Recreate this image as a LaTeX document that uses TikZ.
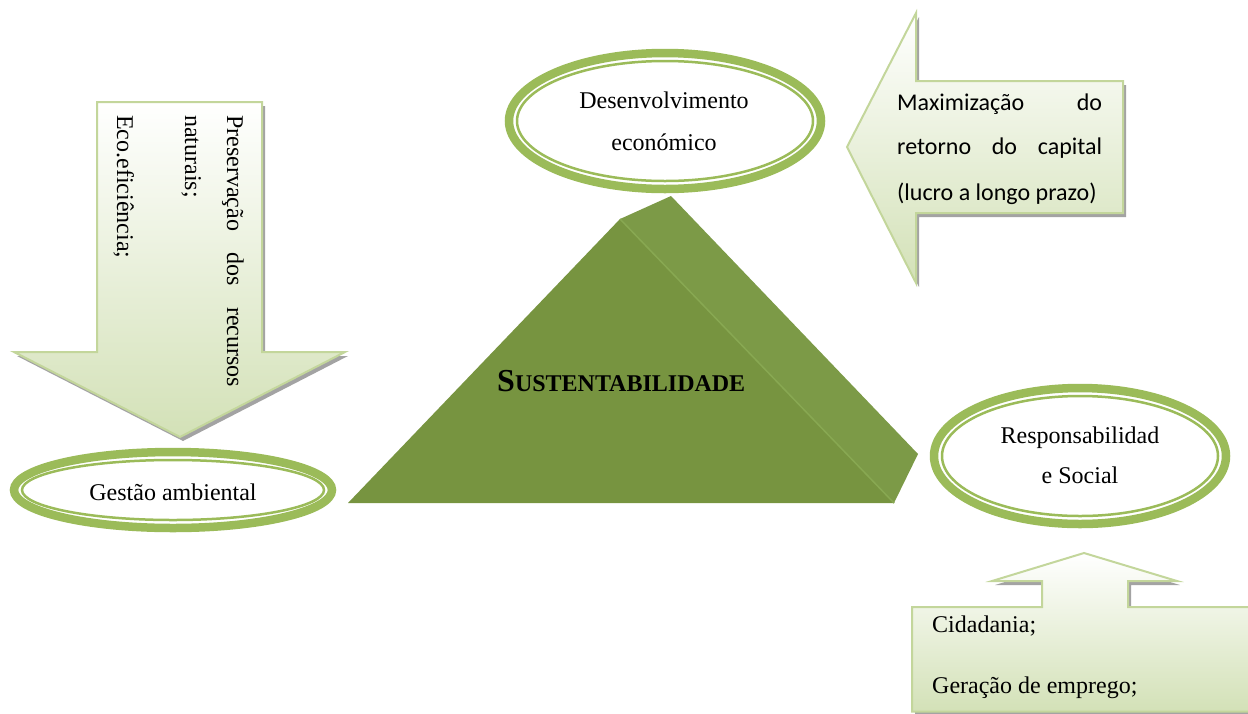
\documentclass[tikz,border=0pt]{standalone}
\usepackage{fontspec}
\setmainfont{Liberation Serif}
\newfontfamily\calfont{Carlito}
\usetikzlibrary{shapes.geometric}
\definecolor{ringgreen}{HTML}{9BBB59}
\definecolor{arrowedge}{HTML}{C3D69B}
\definecolor{arrowfill}{HTML}{D3E1B7}
\definecolor{pyrfront}{HTML}{779440}
\definecolor{pyrside}{HTML}{7C9A47}
\definecolor{pyrridge}{HTML}{88A852}
\definecolor{shadowgray}{HTML}{A3A3A3}
\begin{document}
\begin{tikzpicture}[x=1pt,y=-1pt,
  ringell/.style={ellipse, draw=ringgreen, line width=8.5pt, inner sep=0pt, fill=white},
  innerell/.style={draw=ringgreen, line width=2.5pt},
  arrowshape/.style={draw=arrowedge, line width=2pt, top color=white, bottom color=arrowfill},
  shadowshape/.style={fill=shadowgray},
  lbl/.style={font=\fontsize{24}{28}\selectfont, inner sep=0pt, anchor=base},
  callbl/.style={font=\calfont\fontsize{24}{28}\selectfont, inner sep=0pt, anchor=base west},
]
\useasboundingbox (0,0) rectangle (1248,713);

% ---------- down arrow (left) ----------
\fill[shadowshape, shift={(3,4)}] (97,102) -- (262,102) -- (262,352) -- (345,352) -- (180,437) -- (14,352) -- (97,352) -- cycle;
\path[arrowshape] (97,102) -- (262,102) -- (262,352) -- (345,352) -- (180,437) -- (14,352) -- (97,352) -- cycle;
\node[lbl, rotate=-90, anchor=base west] (p1) at (227,115) {\makebox[272pt][s]{Preservação dos recursos}};
\node[lbl, rotate=-90, anchor=base west] (p2) at (185,115) {naturais;};
\node[lbl, rotate=-90, anchor=base west] (p3) at (117,115) {Eco.eficiência;};

% ---------- left arrow (top right) ----------
\fill[shadowshape, shift={(3,4)}] (847,147) -- (916,13) -- (916,81) -- (1123,81) -- (1123,213) -- (916,213) -- (916,283) -- cycle;
\path[arrowshape] (847,147) -- (916,13) -- (916,81) -- (1123,81) -- (1123,213) -- (916,213) -- (916,283) -- cycle;
\node[callbl] (m1) at (897,110) {\makebox[205pt][s]{Maximização do}};
\node[callbl] (m2) at (897,154) {\makebox[205pt][s]{retorno do capital}};
\node[callbl] (m3) at (897,200) {(lucro a longo prazo)};

% ---------- up arrow callout (bottom right) ----------
\fill[shadowshape, shift={(3,4)}] (912,607) -- (1042,607) -- (1042,581) -- (992,581) -- (1084,553) -- (1177,581) -- (1128,581) -- (1128,607) -- (1252,607) -- (1252,716) -- (912,716) -- cycle;
\path[arrowshape] (912,607) -- (1042,607) -- (1042,581) -- (992,581) -- (1084,553) -- (1177,581) -- (1128,581) -- (1128,607) -- (1252,607) -- (1252,711.5) -- (912,711.5) -- cycle;
\node[lbl, anchor=base west] (c1) at (932,632) {Cidadania;};
\node[lbl, anchor=base west] (c2) at (932,693) {Geração de emprego;};

% ---------- pyramid ----------
\fill[pyrside] (620,219) -- (671,196) -- (918,454) -- (894,503) -- cycle;
\fill[pyrfront] (348,503) -- (620,219) -- (894,503) -- cycle;
\draw[pyrridge, line width=1.5pt] (620,219) -- (894,503);
\node[lbl, anchor=base west, font=\bfseries] (sust) at (497,391)
  {{\fontsize{32}{32}\selectfont S}{\fontsize{24}{24}\selectfont USTENTABILIDADE}};

% ---------- ellipses ----------
\node[ringell, minimum width=312pt, minimum height=136pt] (dev) at (665,121) {};
\draw[innerell] (dev.center) ellipse [x radius=148, y radius=60];
\node[lbl] (dev1) at (664,108) {Desenvolvimento};
\node[lbl] (dev2) at (664,150) {económico};

\node[ringell, minimum width=292pt, minimum height=136pt] (resp) at (1080,456) {};
\draw[innerell] (resp.center) ellipse [x radius=138, y radius=60];
\node[lbl] (resp1) at (1080,443) {Responsabilidad};
\node[lbl] (resp2) at (1080,483) {e Social};

\node[ringell, minimum width=318pt, minimum height=76pt] (gest) at (173,490) {};
\draw[innerell] (gest.center) ellipse [x radius=151, y radius=30];
\node[lbl] (gest1) at (173,500) {Gestão ambiental};
\end{tikzpicture}
\end{document}
